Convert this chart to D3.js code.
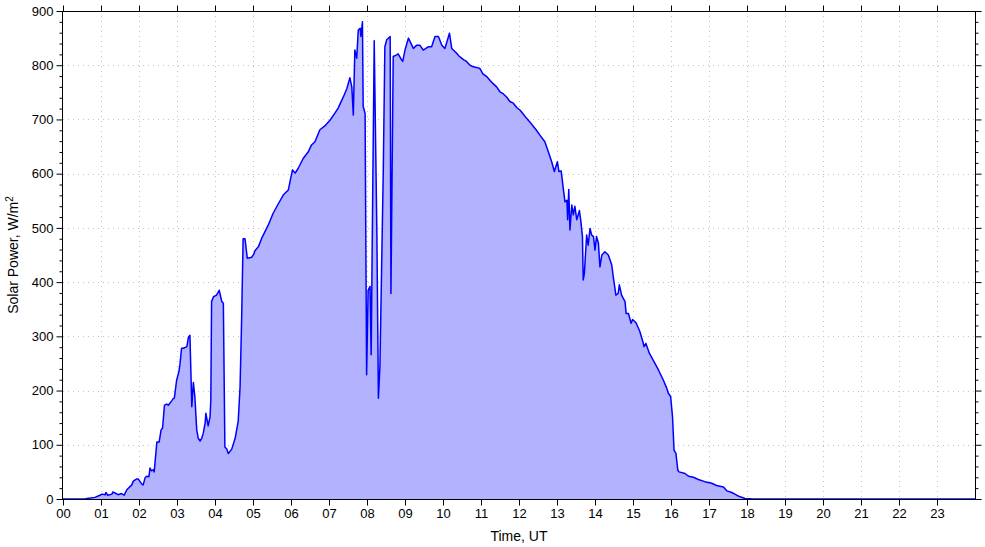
<!DOCTYPE html>
<html><head><meta charset="utf-8">
<script src="https://cdn.jsdelivr.net/npm/d3@7"></script>
<style>body{margin:0;background:#fff}svg{display:block}text{font-family:"Liberation Sans",Arial,sans-serif;}</style>
</head><body><svg id="c" width="985" height="547"></svg>
<script>
const hours = [0,0.58,0.63,0.84,0.97,1.03,1.11,1.13,1.18,1.29,1.31,1.37,1.45,1.54,1.61,1.68,1.81,1.85,1.94,1.98,2.07,2.11,2.16,2.20,2.26,2.29,2.33,2.38,2.40,2.47,2.53,2.58,2.62,2.67,2.73,2.77,2.86,2.90,2.93,2.99,3.05,3.08,3.12,3.17,3.26,3.30,3.34,3.39,3.43,3.47,3.52,3.56,3.61,3.65,3.69,3.74,3.76,3.82,3.87,3.89,3.91,3.96,4.04,4.11,4.18,4.22,4.26,4.31,4.35,4.44,4.53,4.61,4.66,4.70,4.74,4.79,4.85,4.97,5.03,5.05,5.14,5.23,5.40,5.53,5.67,5.80,5.93,5.99,6.04,6.11,6.19,6.32,6.46,6.54,6.63,6.76,6.89,7.03,7.16,7.24,7.38,7.47,7.55,7.60,7.64,7.68,7.73,7.77,7.82,7.84,7.88,7.90,7.95,7.99,8.03,8.08,8.11,8.14,8.19,8.26,8.30,8.34,8.43,8.47,8.52,8.61,8.63,8.69,8.78,8.82,8.91,8.94,9.00,9.09,9.22,9.31,9.39,9.48,9.61,9.70,9.79,9.88,9.97,10.05,10.17,10.23,10.36,10.42,10.49,10.55,10.62,10.71,10.80,10.88,10.97,11.05,11.15,11.24,11.32,11.41,11.50,11.59,11.68,11.76,11.85,11.94,12.03,12.11,12.20,12.29,12.38,12.46,12.55,12.68,12.77,12.86,12.93,13.01,13.05,13.11,13.17,13.21,13.26,13.28,13.31,13.34,13.39,13.43,13.47,13.52,13.59,13.63,13.67,13.69,13.72,13.78,13.82,13.87,13.91,13.96,14.00,14.04,14.09,14.13,14.18,14.26,14.35,14.44,14.48,14.55,14.61,14.64,14.70,14.79,14.82,14.88,14.95,14.99,15.08,15.18,15.26,15.29,15.34,15.43,15.53,15.67,15.80,15.89,15.93,15.99,16.04,16.08,16.13,16.18,16.21,16.37,16.46,16.59,16.72,16.89,17.07,17.20,17.38,17.47,17.60,17.73,17.82,17.95,18.17,24];
const power = [0,0,1,3,7,9,8,12,7,9,13,11,8,10,7,17,26,33,37,37,28,26,39,42,41,57,52,54,50,105,105,127,131,173,175,173,181,185,186,219,235,250,278,278,281,298,302,170,215,189,127,112,107,112,121,140,158,135,152,183,364,373,376,385,364,361,96,92,84,92,112,143,207,330,480,480,444,446,453,458,465,481,505,527,545,561,570,591,607,601,610,628,641,653,659,681,688,699,712,721,742,757,777,760,708,828,813,865,868,853,880,724,711,229,385,392,266,490,845,490,186,244,613,834,847,853,379,816,819,821,810,807,828,850,831,837,837,828,834,834,853,853,837,831,859,831,822,817,813,810,807,800,797,796,794,784,779,772,766,760,751,747,741,733,730,722,717,710,702,695,687,680,671,659,641,622,604,622,604,605,570,548,551,515,571,496,542,524,540,515,532,511,484,404,416,487,468,499,487,484,459,484,472,428,450,456,450,432,410,376,379,395,376,364,342,342,324,331,325,309,290,281,287,269,256,238,219,204,195,189,152,90,84,53,50,47,42,40,36,32,29,25,22,15,12,7,4,1,0,0];
const xTickLabels = ["00","01","02","03","04","05","06","07","08","09","10","11","12","13","14","15","16","17","18","19","20","21","22","23"];
const yTicks = [0,100,200,300,400,500,600,700,800,900];
const xTitle = "Time, UT";

const svg = d3.select("#c");
const L=63, R=975, T=11, B=499;
const x = d3.scaleLinear().domain([0,24]).range([L,R]);
const y = d3.scaleLinear().domain([0,900]).range([B,T]);
const data = hours.map((h,i)=>({h, v: power[i]}));

// grid
const gg = svg.append("g");
gg.selectAll("line.vg").data(d3.range(1,24)).join("line")
  .attr("x1",d=>x(d)+0.5).attr("x2",d=>x(d)+0.5).attr("y1",T).attr("y2",B)
  .attr("stroke","#c4c4c4").attr("stroke-dasharray","1,4");
gg.selectAll("line.hg").data(yTicks.slice(1,-1)).join("line")
  .attr("y1",d=>Math.round(y(d))+0.5).attr("y2",d=>Math.round(y(d))+0.5).attr("x1",L).attr("x2",R)
  .attr("stroke","#c4c4c4").attr("stroke-dasharray","1,4");

// area + line
svg.append("path").datum(data)
  .attr("d", d3.area().x(d=>x(d.h)).y0(y(0)).y1(d=>y(d.v)))
  .attr("fill","#b2b2ff");
svg.append("path").datum(data)
  .attr("d", d3.line().x(d=>x(d.h)).y(d=>y(d.v)))
  .attr("fill","none").attr("stroke","#0000ff").attr("stroke-width",1.5).attr("stroke-linejoin","round");

// axes
const fmtX = i => xTickLabels[i] || "";
const minorVals = d3.range(0,901,20).filter(v=>v%100);
const axBottom = svg.append("g").attr("transform",`translate(0,${B+0.5})`)
  .call(d3.axisBottom(x).tickValues(d3.range(0,24)).tickFormat(fmtX).tickSize(6).tickSizeOuter(0));
const axTop = svg.append("g").attr("transform",`translate(0,${T+0.5})`)
  .call(d3.axisTop(x).tickValues(d3.range(0,24)).tickFormat("").tickSize(6).tickSizeOuter(0));
const axLeft = svg.append("g").attr("transform",`translate(${L-0.5},0)`)
  .call(d3.axisLeft(y).tickValues(yTicks).tickSize(6).tickSizeOuter(0));
const axLeftMinor = svg.append("g").attr("transform",`translate(${L-0.5},0)`)
  .call(d3.axisLeft(y).tickValues(minorVals).tickFormat("").tickSize(3).tickSizeOuter(0));
const axRight = svg.append("g").attr("transform",`translate(${R+0.5},0)`)
  .call(d3.axisRight(y).tickValues(yTicks).tickFormat("").tickSize(6).tickSizeOuter(0));
const axRightMinor = svg.append("g").attr("transform",`translate(${R+0.5},0)`)
  .call(d3.axisRight(y).tickValues(minorVals).tickFormat("").tickSize(3).tickSizeOuter(0));
[axBottom,axTop,axLeft,axLeftMinor,axRight,axRightMinor].forEach(a=>{
  a.selectAll("path.domain").remove();
  a.selectAll("line").attr("stroke","#000");
  a.selectAll("text").attr("fill","#000").style("font-size","13px").style("font-family","'Liberation Sans',Arial,sans-serif");
});
axBottom.selectAll("text").attr("dy","0.71em").attr("y",9);
axLeft.selectAll("text").attr("x",-9);

svg.append("rect").attr("x",L-0.5).attr("y",T+0.5).attr("width",R-L+1).attr("height",B-T)
  .attr("fill","none").attr("stroke","#000").attr("stroke-width",1);

svg.append("text").attr("x",(L+R)/2).attr("y",541).attr("text-anchor","middle")
  .style("font-size","14px").text(xTitle);
const yl = svg.append("text").attr("transform",`translate(18,${(T+B)/2}) rotate(-90)`)
  .attr("text-anchor","middle").style("font-size","14px");
yl.append("tspan").text("Solar Power, W/m");
yl.append("tspan").attr("dy","-5").style("font-size","10px").text("2");
</script></body></html>
